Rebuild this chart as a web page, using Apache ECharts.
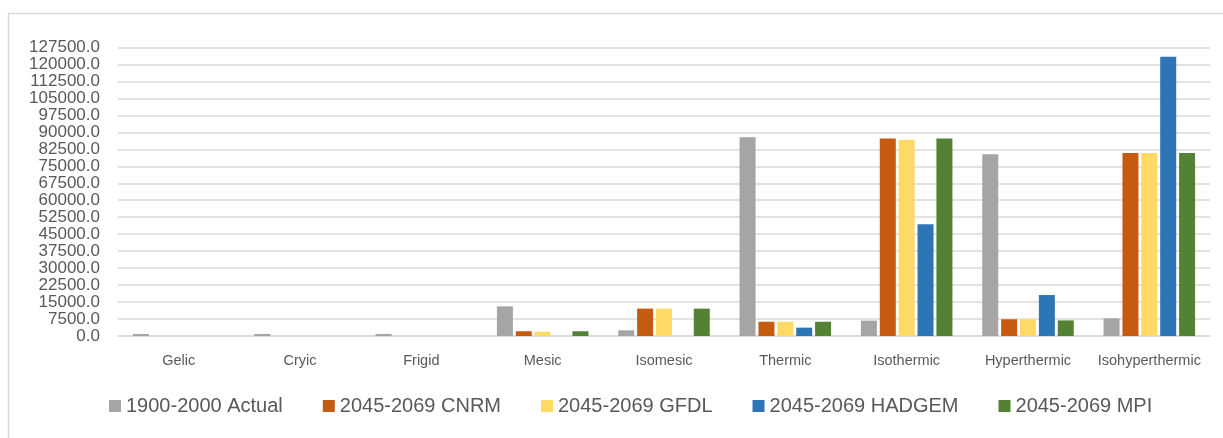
<!DOCTYPE html>
<html>
<head>
<meta charset="utf-8">
<script src="https://cdn.jsdelivr.net/npm/echarts@6/dist/echarts.min.js"></script>
<style>
html,body{margin:0;padding:0;background:#fff;}
#chart{width:1223px;height:438px;}
</style>
</head>
<body>
<div id="chart"></div>
<script>
const categories = ["Gelic","Cryic","Frigid","Mesic","Isomesic","Thermic","Isothermic","Hyperthermic","Isohyperthermic"];
const seriesNames = ["1900-2000 Actual","2045-2069 CNRM","2045-2069 GFDL","2045-2069 HADGEM","2045-2069 MPI"];
const actual = [900, 900, 900, 13100, 2500, 87800, 6800, 80300, 7800];
const cnrm   = [0, 0, 0, 2100, 12100, 6300, 87300, 7400, 80900];
const gfdl   = [0, 0, 0, 1900, 12100, 6300, 86700, 7400, 80900];
const hadgem = [0, 0, 0, 0, 0, 3700, 49400, 18100, 123400];
const mpi    = [0, 0, 0, 2100, 12100, 6300, 87300, 6900, 80900];
const yMin = 0, yMax = 127500, yStep = 7500;

const colors = ["#A5A5A5","#C55A11","#FFD966","#2E75B6","#548235"];
const values = [actual, cnrm, gfdl, hadgem, mpi];
const font = "'Liberation Sans', Arial, sans-serif";

const chart = echarts.init(document.getElementById('chart'), null, {renderer:'canvas'});
chart.setOption({
  animation:false,
  backgroundColor:'#fff',
  color: colors,
  graphic:[{type:'rect', shape:{x:8.5,y:13.5,width:1400,height:600}, style:{fill:'none',stroke:'#D9D9D9',lineWidth:1.5}, silent:true}],
  grid:{left:118, right:13, top:47.5, bottom:102, containLabel:false},
  legend:{
    data: seriesNames,
    bottom: 17,
    left: 104,
    itemWidth: 12, itemHeight: 12, itemGap: 40,
    icon: 'rect',
    textStyle:{fontFamily:font, fontSize:20, color:'#595959'}
  },
  xAxis:{
    type:'category', data: categories,
    axisLine:{show:true, lineStyle:{color:'#D9D9D9', width:1.5}},
    axisTick:{show:false},
    axisLabel:{fontFamily:font, fontSize:14.5, color:'#595959', margin:17, interval:0}
  },
  yAxis:{
    type:'value', min:yMin, max:yMax, interval:yStep,
    axisLine:{show:false}, axisTick:{show:false},
    splitLine:{lineStyle:{color:'#D9D9D9', width:1.5}},
    axisLabel:{fontFamily:font, fontSize:17, color:'#595959', margin:18, formatter:v=>v.toFixed(1)}
  },
  series: seriesNames.map((n,i)=>({
    name:n, type:'bar', data: values[i], barWidth:16, barGap:'18%',
    itemStyle:{color:colors[i]}
  }))
});
</script>
</body>
</html>
